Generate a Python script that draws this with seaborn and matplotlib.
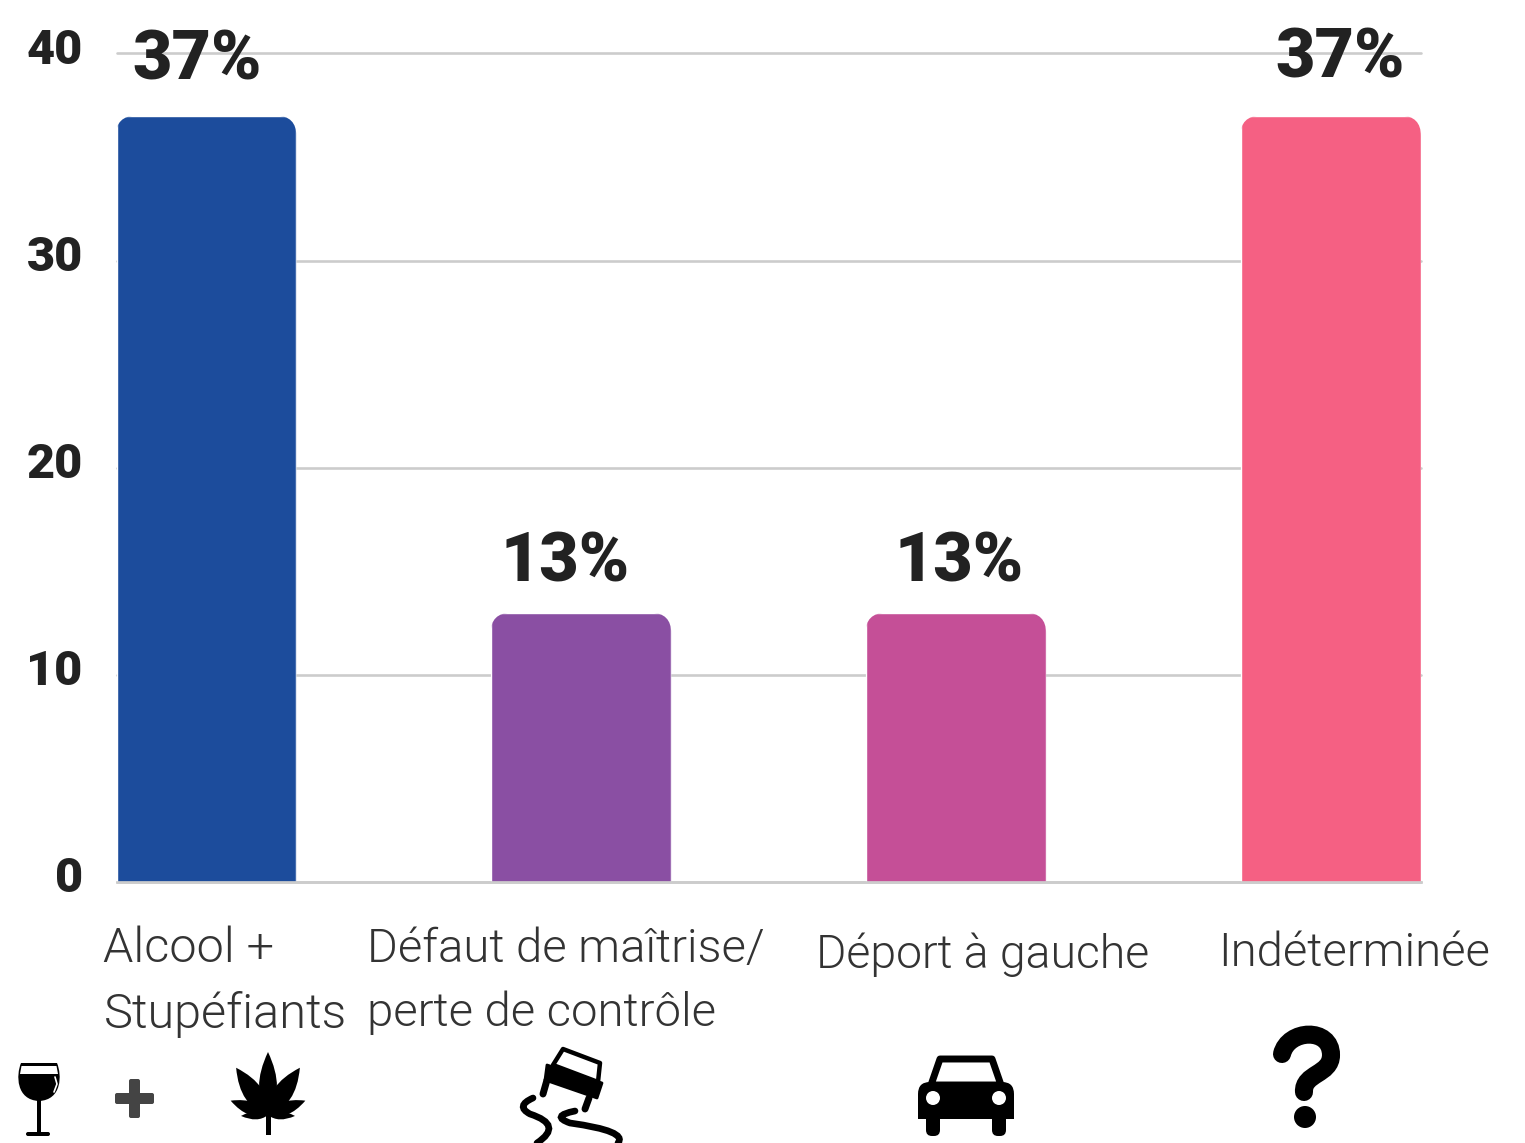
import matplotlib
matplotlib.use('Agg')
import matplotlib.pyplot as plt
import seaborn as sns
from matplotlib.patches import Circle, FancyBboxPatch, PathPatch, Polygon, Rectangle
from matplotlib.path import Path
from matplotlib.transforms import Affine2D, ScaledTranslation

categories = ['Alcool +\nStupéfiants', 'Défaut de maîtrise/\nperte de contrôle', 'Déport à gauche', 'Indéterminée']
values = [37, 13, 13, 37]
value_labels = ['37%', '13%', '13%', '37%']
colors = ['#1c4c9c', '#8a4fa3', '#c54f97', '#f56083']
y_ticks = [0, 10, 20, 30, 40]

W, H = 1525, 1143
sns.set_theme(style='white')
plt.rcParams['font.family'] = ['Roboto', 'DejaVu Sans']

fig = plt.figure(figsize=(W / 100, H / 100), dpi=100)
ax = fig.add_axes([116.5 / W, 1 - 882 / H, (1421 - 116.5) / W, (882 - 53.5) / H])

sns.barplot(x=categories, y=values, hue=categories, palette=colors, saturation=1,
            width=0.48, legend=False, ax=ax, zorder=2)
ax.set_xlim(-0.24, 3.24)
ax.set_ylim(0, 40)
ax.set_yticks(y_ticks)
ax.grid(axis='y', color='#cccccc', lw=1.9, zorder=0)
ax.set_axisbelow(True)
for line in ax.get_ygridlines():
    line.set_clip_on(False)
sns.despine(ax=ax, left=True)
ax.spines['bottom'].set_color('#cccccc')
ax.spines['bottom'].set_linewidth(1.9)
ax.tick_params(axis='both', length=0)


def shift(txt, dx, dy):
    # offset in pixels, y going down
    txt.set_transform(txt.get_transform() + ScaledTranslation(dx / 100, -dy / 100, fig.dpi_scale_trans))


# rounded tops, clip box runs below the axis so the bottom stays square
for bar in ax.patches:
    box = FancyBboxPatch((bar.get_x() - 0.002, -5), bar.get_width() + 0.002, bar.get_height() + 5,
                         boxstyle='round,pad=0,rounding_size=0.055',
                         mutation_aspect=(40 / 828.5) / (3.48 / 1304.5),
                         transform=ax.transData, facecolor='none', edgecolor='none')
    ax.add_patch(box)
    bar.set_clip_path(box)

for lab in ax.get_yticklabels():
    lab.set_fontsize(35)
    lab.set_fontweight(900)
    lab.set_color('#222222')
    shift(lab, -29, -7.5)

label_offsets = [(-103, 39), (-214, 40), (-140, 46), (-113, 44)]
label_sizes = [35, 34, 33.4, 34]
label_spacing = [1.5, 1.55, 1.5, 1.5]
for lab, (dx, dy), size, sp in zip(ax.get_xticklabels(), label_offsets, label_sizes, label_spacing):
    lab.set_fontsize(size)
    lab.set_fontweight(300)
    lab.set_color('#333333')
    lab.set_ha('left')
    lab.set_linespacing(sp)
    shift(lab, dx, dy)

value_offsets = [(-9, 55), (-16, 50), (3, 50), (9, 57)]
for i, (v, s) in enumerate(zip(values, value_labels)):
    ax.annotate(s, xy=(i, v), xytext=value_offsets[i], textcoords='offset pixels',
                ha='center', va='center', fontsize=49, fontweight=900, color='#222222', zorder=5)

# icons drawn on a full-figure overlay in pixel coordinates
ic = fig.add_axes([0, 0, 1, 1], facecolor='none')
ic.set_xlim(0, W)
ic.set_ylim(H, 0)
ic.axis('off')


def leaf(x, y, angle, length, width):
    p = Path([(0, 0), (length * 0.4, width), (length, 0), (length * 0.4, -width), (0, 0)],
             [Path.MOVETO, Path.CURVE3, Path.CURVE3, Path.CURVE3, Path.CURVE3])
    t = Affine2D().rotate_deg(-angle).translate(x, y) + ic.transData
    ic.add_patch(PathPatch(p, fc='black', ec='none', transform=t))


def squiggle(pts):
    codes = [Path.MOVETO] + [Path.CURVE3] * (len(pts) - 1)
    ic.add_patch(PathPatch(Path(pts, codes), fc='none', ec='black', lw=4.8, capstyle='round'))


# wine glass
bowl = Path([(21, 1063), (57, 1063), (62, 1075), (62, 1100), (39, 1101), (16, 1100), (16, 1075), (21, 1063)],
            [Path.MOVETO, Path.LINETO, Path.CURVE4, Path.CURVE4, Path.CURVE4, Path.CURVE4, Path.CURVE4, Path.CURVE4])
ic.add_patch(PathPatch(bowl, fc='black', ec='none'))
ic.add_patch(Polygon([(21.5, 1066), (56.5, 1066), (58, 1074), (20, 1074)], closed=True, fc='white', ec='none'))
ic.plot([55, 57, 54], [1077, 1084, 1092], color='white', lw=1.2)
ic.add_patch(Rectangle((37, 1098), 4, 35, fc='black', ec='none'))
ic.add_patch(FancyBboxPatch((26, 1132), 24, 4, boxstyle='round,pad=0,rounding_size=2', fc='black', ec='none'))

# plus
ic.add_patch(FancyBboxPatch((115, 1093), 39, 11, boxstyle='round,pad=0,rounding_size=2', fc='#444444', ec='none'))
ic.add_patch(FancyBboxPatch((129, 1079), 11, 39, boxstyle='round,pad=0,rounding_size=2', fc='#444444', ec='none'))

# cannabis leaf
for angle, length, width in [(90, 63, 18), (56, 57, 19), (124, 57, 19), (21, 40, 13), (159, 40, 13), (-2, 27, 8), (182, 27, 8)]:
    leaf(268, 1115, angle, length, width)
ic.add_patch(Rectangle((266, 1110), 5, 25, fc='black', ec='none'))

# skidding car
ic.add_patch(Polygon([(553, 1065), (563, 1049), (600, 1063), (598, 1082)], closed=True, fc='white', ec='black', lw=3.2, joinstyle='round'))
ic.add_patch(Polygon([(547, 1065), (602, 1083), (597, 1098), (545, 1080)], closed=True, fc='black', ec='black', lw=2, joinstyle='round'))
ic.plot([547, 543], [1080, 1094], color='black', lw=5, solid_capstyle='round')
ic.plot([589, 585], [1098, 1109], color='black', lw=5, solid_capstyle='round')
squiggle([(533, 1098), (515, 1106), (530, 1114), (564, 1125), (537, 1143)])
squiggle([(575, 1111), (550, 1116), (570, 1123), (628, 1131), (618, 1143)])

# car
ic.add_patch(Polygon([(931, 1085), (940, 1059), (992, 1059), (1001, 1085)], closed=True, fc='white', ec='black', lw=5, joinstyle='round'))
ic.add_patch(FancyBboxPatch((918, 1082), 96, 37, boxstyle='round,pad=0,rounding_size=12', fc='black', ec='none'))
ic.add_patch(Rectangle((918, 1100), 96, 19, fc='black', ec='none'))
for wx in [926, 992]:
    ic.add_patch(FancyBboxPatch((wx, 1112), 14, 24, boxstyle='round,pad=0,rounding_size=6', fc='black', ec='none'))
for hx in [933, 999]:
    ic.add_patch(Circle((hx, 1098), 7, fc='white', ec='none'))

# question mark icon
hook = Path([(1282, 1054), (1288, 1029), (1331, 1027), (1331, 1055), (1331, 1075), (1303, 1073), (1304, 1092)],
            [Path.MOVETO, Path.CURVE4, Path.CURVE4, Path.CURVE4, Path.CURVE4, Path.CURVE4, Path.CURVE4])
ic.add_patch(PathPatch(hook, fc='none', ec='black', lw=13, capstyle='round'))
ic.add_patch(Circle((1305, 1117), 11, fc='black', ec='none'))

fig.savefig('out.png', dpi=100)
